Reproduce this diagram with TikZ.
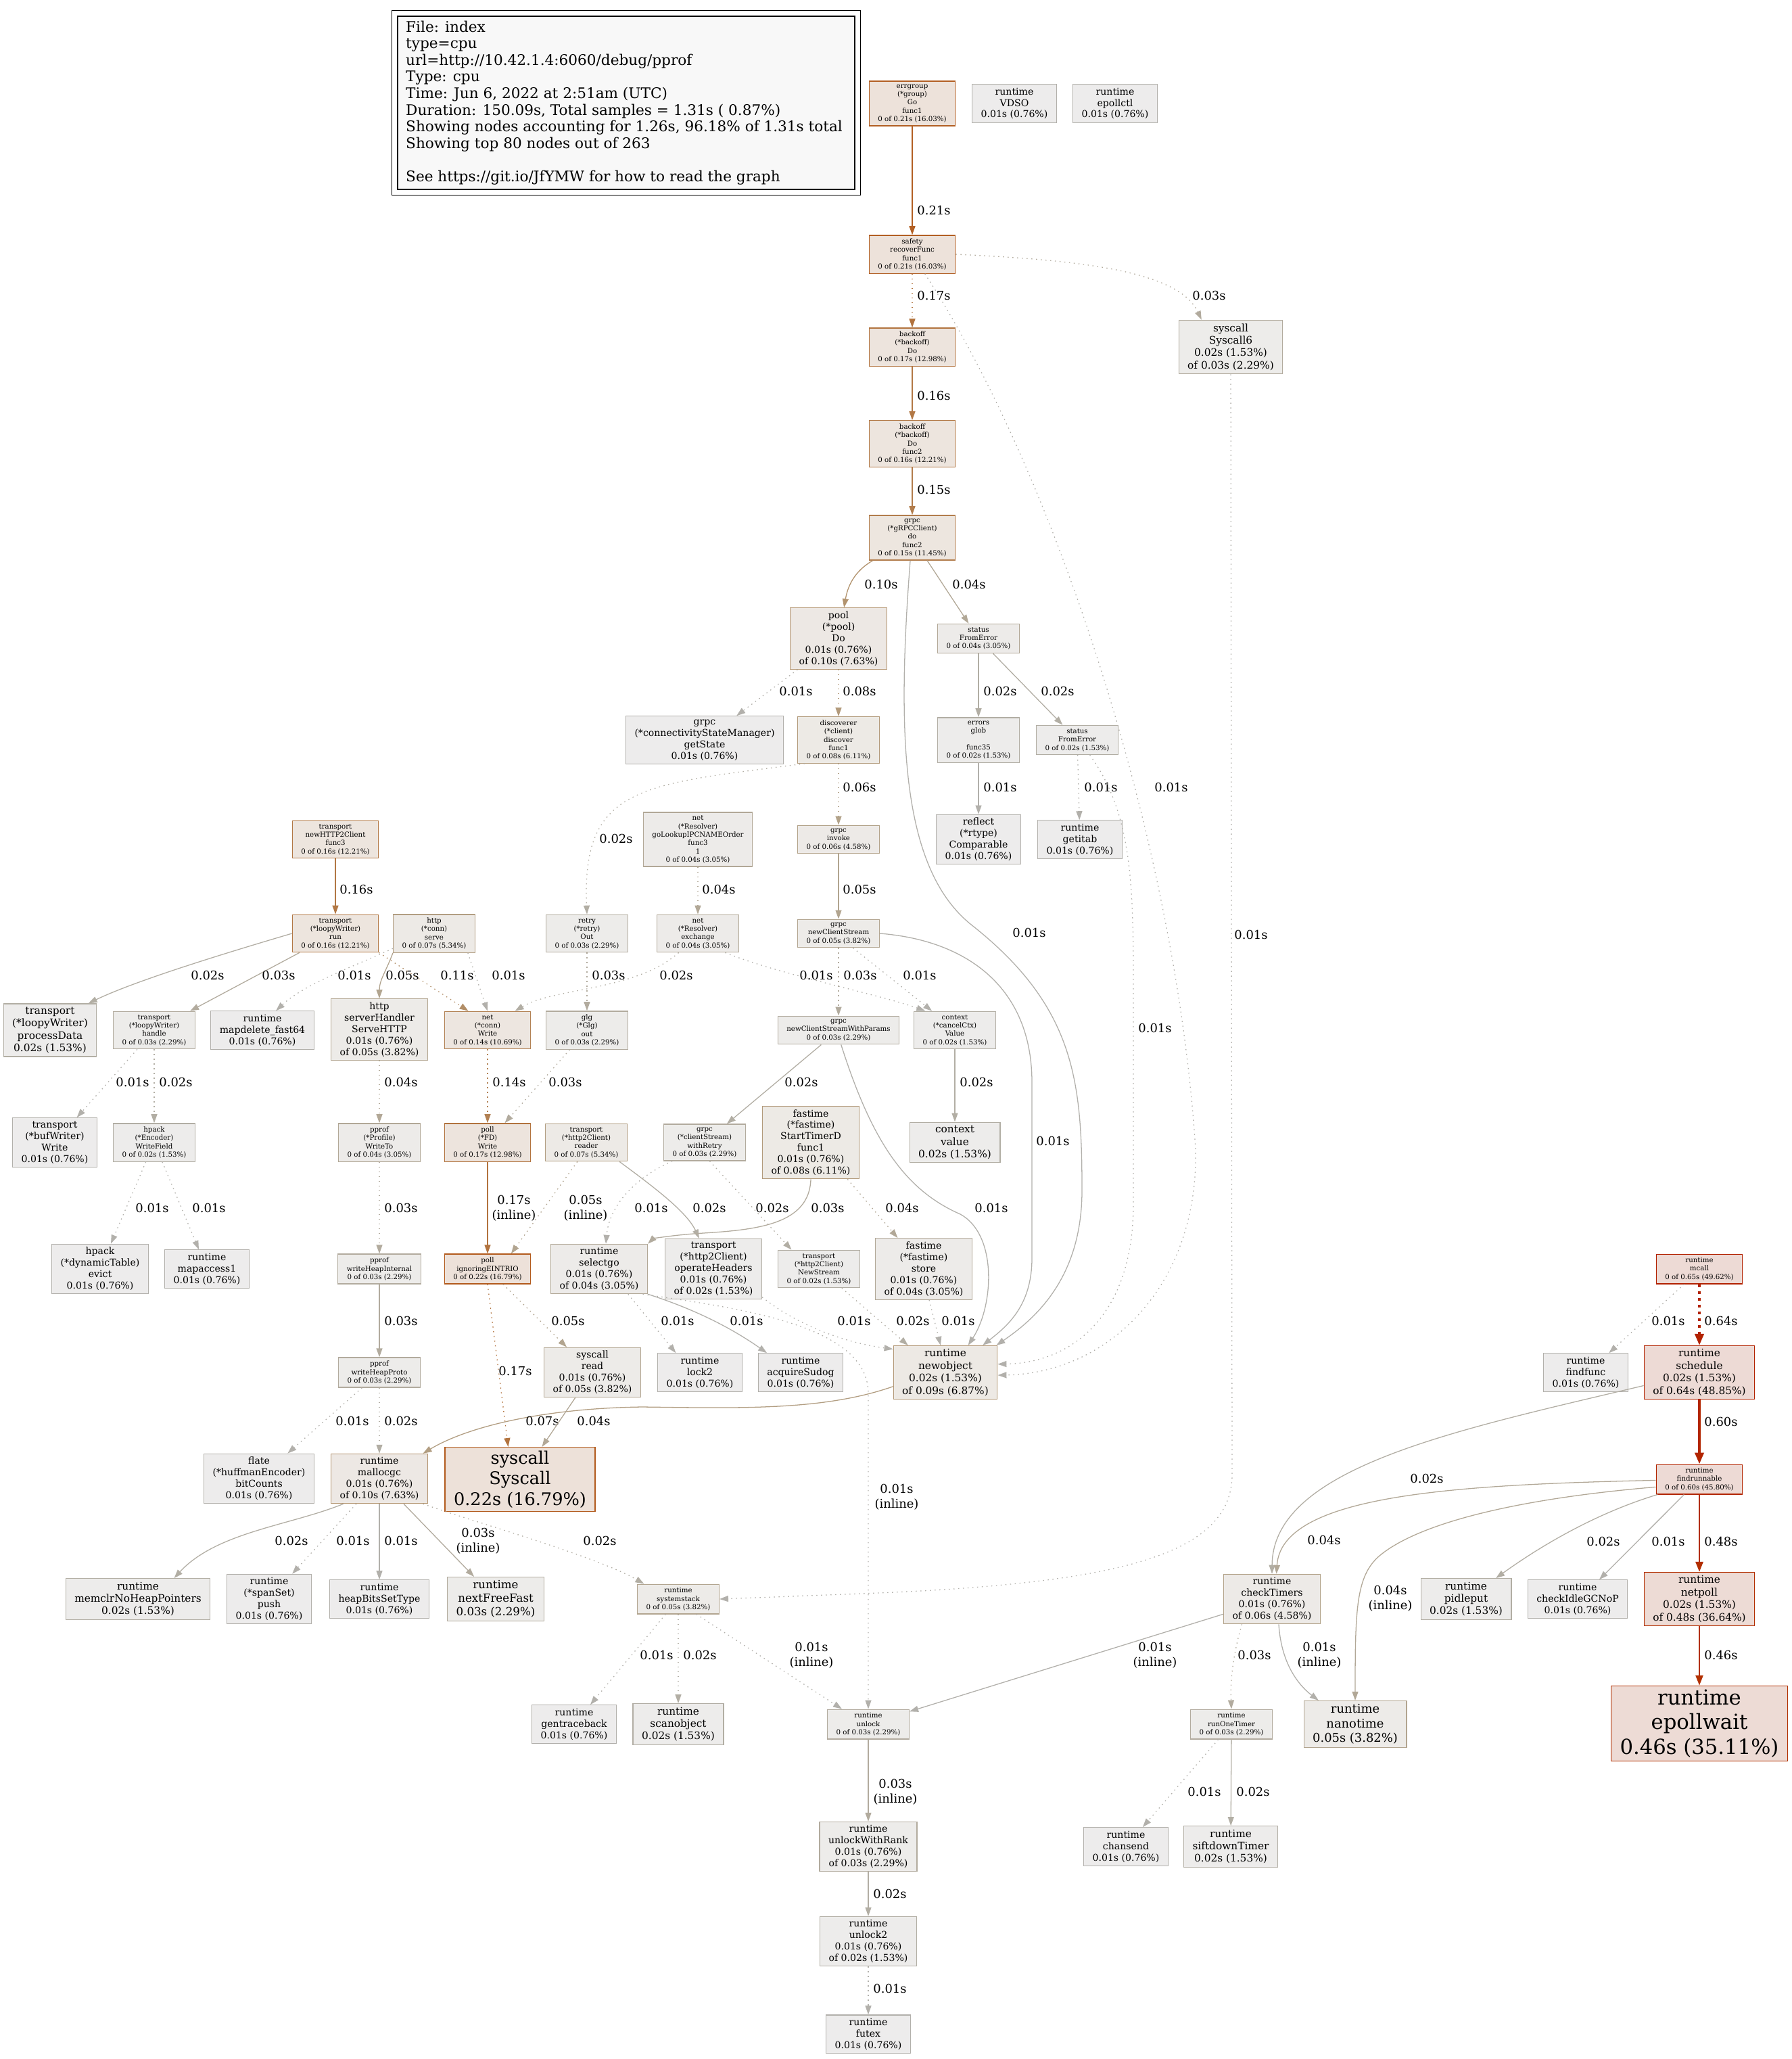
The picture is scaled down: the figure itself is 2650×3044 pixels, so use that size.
\documentclass[tikz,border=0pt]{standalone}
\usepackage{fontspec}
\setmainfont{DejaVu Serif}
\usepackage{tikz}
\usetikzlibrary{arrows.meta,fit}
% node fills (by cumulative time)
\definecolor{ppfill01}{HTML}{EDECEC}
\definecolor{ppfill02}{HTML}{EDECEB}
\definecolor{ppfill03}{HTML}{EDECEA}
\definecolor{ppfill04}{HTML}{EDEBE9}
\definecolor{ppfill05}{HTML}{EDEBE8}
\definecolor{ppfill06}{HTML}{EDEAE7}
\definecolor{ppfill07}{HTML}{EDEAE6}
\definecolor{ppfill08}{HTML}{EDEAE5}
\definecolor{ppfill09}{HTML}{EDE9E4}
\definecolor{ppfill10}{HTML}{EDE8E4}
\definecolor{ppfill14}{HTML}{EDE6E0}
\definecolor{ppfill15}{HTML}{EDE6DF}
\definecolor{ppfill16}{HTML}{EDE5DE}
\definecolor{ppfill17}{HTML}{EDE4DD}
\definecolor{ppfill21}{HTML}{EDE2DA}
\definecolor{ppfill22}{HTML}{EDE1D9}
\definecolor{ppfill46}{HTML}{EDDBD5}
\definecolor{ppfill48}{HTML}{EDDBD5}
\definecolor{ppfill60}{HTML}{EDDAD5}
\definecolor{ppfill64}{HTML}{EDDAD5}
\definecolor{ppfill65}{HTML}{EDDAD5}
% borders and edges
\definecolor{ppline01}{HTML}{B2B0AB}
\definecolor{ppline02}{HTML}{B2AEA4}
\definecolor{ppline03}{HTML}{B2AB9E}
\definecolor{ppline04}{HTML}{B2A897}
\definecolor{ppline05}{HTML}{B2A590}
\definecolor{ppline06}{HTML}{B2A289}
\definecolor{ppline07}{HTML}{B29E82}
\definecolor{ppline08}{HTML}{B29A7B}
\definecolor{ppline09}{HTML}{B29775}
\definecolor{ppline10}{HTML}{B2936E}
\definecolor{ppline11}{HTML}{B28E67}
\definecolor{ppline14}{HTML}{B28153}
\definecolor{ppline15}{HTML}{B27D4C}
\definecolor{ppline16}{HTML}{B27845}
\definecolor{ppline17}{HTML}{B2733E}
\definecolor{ppline21}{HTML}{B25F23}
\definecolor{ppline22}{HTML}{B25A1C}
\definecolor{ppline46}{HTML}{B23000}
\definecolor{ppline48}{HTML}{B22E00}
\definecolor{ppline60}{HTML}{B22500}
\definecolor{ppline64}{HTML}{B22200}
\definecolor{ppline65}{HTML}{B22100}
\definecolor{pplegend}{HTML}{F8F8F8}
\newcommand{\ppsize}[2]{\fontsize{#1pt}{#2pt}\selectfont}

\begin{document}
\begin{tikzpicture}[x=1pt, y=-1pt,
    fnbox/.style={rectangle, draw, align=center, line width=1.28pt, inner xsep=13pt, inner ysep=5pt},
    heat/.style={fill=ppfill#1, draw=ppline#1},
    fs8/.style={font=\ppsize{10.24}{12.3}},
    fs11/.style={font=\ppsize{14.08}{16.9}},
    fs12/.style={font=\ppsize{15.36}{18.4}},
    fs13/.style={font=\ppsize{16.64}{20}},
    fs14/.style={font=\ppsize{17.92}{21.5}},
    fs20/.style={font=\ppsize{25.6}{30.7}},
    fs24/.style={font=\ppsize{30.72}{36.9}},
    lbl/.style={align=center, inner sep=0pt, font=\ppsize{17.92}{21.5}},
    legendbox/.style={draw, line width=1.28pt, fill=pplegend, minimum width=676pt, minimum height=256pt, inner sep=0pt},
    legendtext/.style={align=left, inner sep=0pt, font=\ppsize{21.6}{24.6}},
    call/.style={draw=ppline#1, line width=1.28pt, -{Triangle[length=13pt,width=9pt]}},
    resid/.style={dash pattern=on 1.5pt off 5.5pt},
    wide/.style={line width=2.56pt, -{Triangle[length=15pt,width=11pt]}},
    wider/.style={line width=3.84pt, -{Triangle[length=17pt,width=13pt]}}]
  \path[use as bounding box, fill=white] (0,0) rectangle (2650,3044);

  % Legend
  \node[legendbox] (legend) at (926,152) {};
  \node[legendtext, anchor=west] (legendinfo) at (600,152) {File: index\\type=cpu\\url=http://10.42.1.4:6060/debug/pprof\\Type: cpu\\Time: Jun 6, 2022 at 2:51am (UTC)\\Duration: 150.09s, Total samples = 1.31s ( 0.87\%)\\Showing nodes accounting for 1.26s, 96.18\% of 1.31s total\\Showing top 80 nodes out of 263\\[24.6pt]See https://git.io/JfYMW for how to read the graph};
  \node[draw, line width=1.28pt, fit=(legend), inner sep=8pt] (legendframe) {};

  % Roots
  \node[fnbox, fs8, heat=21] (errgroup) at (1349,153) {errgroup\\(*group)\\Go\\func1\\0 of 0.21s (16.03\%)};
  \node[fnbox, fs11, heat=01] (vdso) at (1500,153) {runtime\\VDSO\\0.01s (0.76\%)};
  \node[fnbox, fs11, heat=01] (epollctl) at (1649,153) {runtime\\epollctl\\0.01s (0.76\%)};

  % Client retry chain
  \node[fnbox, fs8, heat=21] (safety) at (1349,376) {safety\\recoverFunc\\func1\\0 of 0.21s (16.03\%)};
  \node[fnbox, fs8, heat=17] (backoffdo) at (1349,513) {backoff\\(*backoff)\\Do\\0 of 0.17s (12.98\%)};
  \node[fnbox, fs12, heat=03] (syscallsix) at (1820,513) {syscall\\Syscall6\\0.02s (1.53\%)\\of 0.03s (2.29\%)};
  \node[fnbox, fs8, heat=16] (backofffunc) at (1349,656) {backoff\\(*backoff)\\Do\\func2\\0 of 0.16s (12.21\%)};
  \node[fnbox, fs8, heat=15] (grpcdo) at (1349,795) {grpc\\(*gRPCClient)\\do\\func2\\0 of 0.15s (11.45\%)};
  \node[fnbox, fs11, heat=10] (pool) at (1240,944) {pool\\(*pool)\\Do\\0.01s (0.76\%)\\of 0.10s (7.63\%)};
  \node[fnbox, fs8, heat=04] (status) at (1447,944) {status\\FromError\\0 of 0.04s (3.05\%)};
  \node[fnbox, fs11, heat=01] (getstate) at (1042,1094) {grpc\\(*connectivityStateManager)\\getState\\0.01s (0.76\%)};
  \node[fnbox, fs8, heat=08] (discoverer) at (1240,1094) {discoverer\\(*client)\\discover\\func1\\0 of 0.08s (6.11\%)};
  \node[fnbox, fs8, heat=02] (glob) at (1447,1094) {errors\\glob\\[12.3pt]func35\\0 of 0.02s (1.53\%)};
  \node[fnbox, fs8, heat=02] (statustwo) at (1593,1094) {status\\FromError\\0 of 0.02s (1.53\%)};
  \node[fnbox, fs8, heat=16] (http2client) at (496,1241) {transport\\newHTTP2Client\\func3\\0 of 0.16s (12.21\%)};
  \node[fnbox, fs8, heat=04] (golookup) at (1032,1241) {net\\(*Resolver)\\goLookupIPCNAMEOrder\\func3\\1\\0 of 0.04s (3.05\%)};
  \node[fnbox, fs8, heat=06] (invoke) at (1240,1241) {grpc\\invoke\\0 of 0.06s (4.58\%)};
  \node[fnbox, fs11, heat=01] (rtype) at (1447,1241) {reflect\\(*rtype)\\Comparable\\0.01s (0.76\%)};
  \node[fnbox, fs11, heat=01] (getitab) at (1597,1241) {runtime\\getitab\\0.01s (0.76\%)};

  % Writers, readers and streams
  \node[fnbox, fs8, heat=16] (looprun) at (496,1380) {transport\\(*loopyWriter)\\run\\0 of 0.16s (12.21\%)};
  \node[fnbox, fs8, heat=07] (connserve) at (642,1380) {http\\(*conn)\\serve\\0 of 0.07s (5.34\%)};
  \node[fnbox, fs8, heat=03] (retryout) at (868,1380) {retry\\(*retry)\\Out\\0 of 0.03s (2.29\%)};
  \node[fnbox, fs8, heat=04] (exchange) at (1032,1380) {net\\(*Resolver)\\exchange\\0 of 0.04s (3.05\%)};
  \node[fnbox, fs8, heat=05] (clientstream) at (1240,1380) {grpc\\newClientStream\\0 of 0.05s (3.82\%)};
  \node[fnbox, fs12, heat=02] (processdata) at (74,1523) {transport\\(*loopyWriter)\\processData\\0.02s (1.53\%)};
  \node[fnbox, fs8, heat=03] (loophandle) at (228,1523) {transport\\(*loopyWriter)\\handle\\0 of 0.03s (2.29\%)};
  \node[fnbox, fs11, heat=01] (mapdelete) at (388,1523) {runtime\\mapdelete\_fast64\\0.01s (0.76\%)};
  \node[fnbox, fs11, heat=05] (servehttp) at (561,1522) {http\\serverHandler\\ServeHTTP\\0.01s (0.76\%)\\of 0.05s (3.82\%)};
  \node[fnbox, fs8, heat=14] (connwrite) at (721,1523) {net\\(*conn)\\Write\\0 of 0.14s (10.69\%)};
  \node[fnbox, fs8, heat=03] (glgout) at (868,1523) {glg\\(*Glg)\\out\\0 of 0.03s (2.29\%)};
  \node[fnbox, fs8, heat=03] (streamparams) at (1240,1523) {grpc\\newClientStreamWithParams\\0 of 0.03s (2.29\%)};
  \node[fnbox, fs8, heat=02] (cancelctx) at (1412,1523) {context\\(*cancelCtx)\\Value\\0 of 0.02s (1.53\%)};
  \node[fnbox, fs11, heat=01] (bufwrite) at (81,1689) {transport\\(*bufWriter)\\Write\\0.01s (0.76\%)};
  \node[fnbox, fs8, heat=02] (writefield) at (228,1689) {hpack\\(*Encoder)\\WriteField\\0 of 0.02s (1.53\%)};
  \node[fnbox, fs8, heat=04] (writeto) at (561,1689) {pprof\\(*Profile)\\WriteTo\\0 of 0.04s (3.05\%)};
  \node[fnbox, fs8, heat=17] (fdwrite) at (721,1689) {poll\\(*FD)\\Write\\0 of 0.17s (12.98\%)};
  \node[fnbox, fs8, heat=07] (h2reader) at (867,1689) {transport\\(*http2Client)\\reader\\0 of 0.07s (5.34\%)};
  \node[fnbox, fs8, heat=03] (withretry) at (1042,1689) {grpc\\(*clientStream)\\withRetry\\0 of 0.03s (2.29\%)};
  \node[fnbox, fs11, heat=08] (timerd) at (1199,1689) {fastime\\(*fastime)\\StartTimerD\\func1\\0.01s (0.76\%)\\of 0.08s (6.11\%)};
  \node[fnbox, fs12, heat=02] (ctxvalue) at (1412,1689) {context\\value\\0.02s (1.53\%)};

  % Lower call levels
  \node[fnbox, fs11, heat=01] (evict) at (148,1876) {hpack\\(*dynamicTable)\\evict\\0.01s (0.76\%)};
  \node[fnbox, fs11, heat=01] (mapaccess) at (306,1876) {runtime\\mapaccess1\\0.01s (0.76\%)};
  \node[fnbox, fs8, heat=03] (heapinternal) at (561,1876) {pprof\\writeHeapInternal\\0 of 0.03s (2.29\%)};
  \node[fnbox, fs8, heat=22] (eintr) at (721,1876) {poll\\ignoringEINTRIO\\0 of 0.22s (16.79\%)};
  \node[fnbox, fs11, heat=04] (selectgo) at (886,1876) {runtime\\selectgo\\0.01s (0.76\%)\\of 0.04s (3.05\%)};
  \node[fnbox, fs11, heat=02] (opheaders) at (1055,1876) {transport\\(*http2Client)\\operateHeaders\\0.01s (0.76\%)\\of 0.02s (1.53\%)};
  \node[fnbox, fs8, heat=02] (h2newstream) at (1211,1876) {transport\\(*http2Client)\\NewStream\\0 of 0.02s (1.53\%)};
  \node[fnbox, fs11, heat=04] (fstore) at (1366,1876) {fastime\\(*fastime)\\store\\0.01s (0.76\%)\\of 0.04s (3.05\%)};
  \node[fnbox, fs8, heat=65] (mcall) at (2513,1876) {runtime\\mcall\\0 of 0.65s (49.62\%)};
  \node[fnbox, fs8, heat=03] (heapproto) at (561,2029) {pprof\\writeHeapProto\\0 of 0.03s (2.29\%)};
  \node[fnbox, fs11, heat=05] (sysread) at (876,2029) {syscall\\read\\0.01s (0.76\%)\\of 0.05s (3.82\%)};
  \node[fnbox, fs11, heat=01] (locktwo) at (1035,2029) {runtime\\lock2\\0.01s (0.76\%)};
  \node[fnbox, fs11, heat=01] (sudog) at (1184,2029) {runtime\\acquireSudog\\0.01s (0.76\%)};
  \node[fnbox, fs12, heat=09] (newobject) at (1398,2029) {runtime\\newobject\\0.02s (1.53\%)\\of 0.09s (6.87\%)};
  \node[fnbox, fs11, heat=01] (findfunc) at (2345,2029) {runtime\\findfunc\\0.01s (0.76\%)};
  \node[fnbox, fs12, heat=64] (schedule) at (2513,2029) {runtime\\schedule\\0.02s (1.53\%)\\of 0.64s (48.85\%)};
  \node[fnbox, fs11, heat=01] (bitcounts) at (383,2186) {flate\\(*huffmanEncoder)\\bitCounts\\0.01s (0.76\%)};
  \node[fnbox, fs11, heat=10] (mallocgc) at (561,2186) {runtime\\mallocgc\\0.01s (0.76\%)\\of 0.10s (7.63\%)};
  \node[fnbox, fs20, heat=22] (syscall) at (769,2187) {syscall\\Syscall\\0.22s (16.79\%)};
  \node[fnbox, fs8, heat=60] (findrunnable) at (2513,2187) {runtime\\findrunnable\\0 of 0.60s (45.80\%)};

  % Runtime leaves
  \node[fnbox, fs12, heat=02] (memclr) at (204,2364) {runtime\\memclrNoHeapPointers\\0.02s (1.53\%)};
  \node[fnbox, fs11, heat=01] (spanpush) at (398,2364) {runtime\\(*spanSet)\\push\\0.01s (0.76\%)};
  \node[fnbox, fs11, heat=01] (heapbits) at (561,2364) {runtime\\heapBitsSetType\\0.01s (0.76\%)};
  \node[fnbox, fs13, heat=03] (nextfree) at (733,2364) {runtime\\nextFreeFast\\0.03s (2.29\%)};
  \node[fnbox, fs8, heat=05] (systemstack) at (1003,2364) {runtime\\systemstack\\0 of 0.05s (3.82\%)};
  \node[fnbox, fs11, heat=06] (checktimers) at (1881,2364) {runtime\\checkTimers\\0.01s (0.76\%)\\of 0.06s (4.58\%)};
  \node[fnbox, fs12, heat=02] (pidleput) at (2168,2364) {runtime\\pidleput\\0.02s (1.53\%)};
  \node[fnbox, fs11, heat=01] (checkidle) at (2333,2364) {runtime\\checkIdleGCNoP\\0.01s (0.76\%)};
  \node[fnbox, fs12, heat=48] (netpoll) at (2513,2364) {runtime\\netpoll\\0.02s (1.53\%)\\of 0.48s (36.64\%)};
  \node[fnbox, fs11, heat=01] (gentraceback) at (849,2549) {runtime\\gentraceback\\0.01s (0.76\%)};
  \node[fnbox, fs12, heat=02] (scanobject) at (1003,2549) {runtime\\scanobject\\0.02s (1.53\%)};
  \node[fnbox, fs8, heat=03] (unlock) at (1284,2549) {runtime\\unlock\\0 of 0.03s (2.29\%)};
  \node[fnbox, fs8, heat=03] (runonetimer) at (1821,2549) {runtime\\runOneTimer\\0 of 0.03s (2.29\%)};
  \node[fnbox, fs14, heat=05] (nanotime) at (2004,2549) {runtime\\nanotime\\0.05s (3.82\%)};
  \node[fnbox, fs24, heat=46] (epollwait) at (2513,2548) {runtime\\epollwait\\0.46s (35.11\%)};
  \node[fnbox, fs11, heat=03] (unlockrank) at (1284,2730) {runtime\\unlockWithRank\\0.01s (0.76\%)\\of 0.03s (2.29\%)};
  \node[fnbox, fs11, heat=01] (chansend) at (1665,2730) {runtime\\chansend\\0.01s (0.76\%)};
  \node[fnbox, fs12, heat=02] (siftdown) at (1820,2730) {runtime\\siftdownTimer\\0.02s (1.53\%)};
  \node[fnbox, fs11, heat=02] (unlocktwo) at (1284,2870) {runtime\\unlock2\\0.01s (0.76\%)\\of 0.02s (1.53\%)};
  \node[fnbox, fs11, heat=01] (futex) at (1284,3007) {runtime\\futex\\0.01s (0.76\%)};

  % Arrows: top chain
  \draw[call=21] (errgroup) -- (safety) node[lbl] at (1381,311) {0.21s};
  \draw[call=17, resid] (safety) -- (backoffdo) node[lbl] at (1381,437) {0.17s};
  \draw[call=03, resid] (safety.east) .. controls (1620,385) and (1745,405) .. (syscallsix.137) node[lbl] at (1788,437) {0.03s};
  \draw[call=01, resid] (safety) .. controls (1560,700) and (1740,1250) .. (1768,1700) .. controls (1772,1900) and (1640,2030) .. (newobject.-3) node[lbl] at (1732,1164) {0.01s};
  \draw[call=16] (backoffdo) -- (backofffunc) node[lbl] at (1381,585) {0.16s};
  \draw[call=15] (backofffunc) -- (grpcdo) node[lbl] at (1381,724) {0.15s};
  \draw[call=10] (grpcdo) to[out=-150,in=80] (pool) node[lbl] at (1303,864) {0.10s};
  \draw[call=04] (grpcdo) -- (status) node[lbl] at (1433,864) {0.04s};
  \draw[call=01] (grpcdo.-95) .. controls (1325,1100) and (1335,1290) .. (1440,1370) .. controls (1590,1490) and (1600,1600) .. (1600,1760) .. controls (1600,1890) and (1530,1950) .. (newobject.28) node[lbl] at (1522,1379) {0.01s};
  \draw[call=01, resid] (syscallsix) -- (1822,2180) .. controls (1822,2300) and (1650,2340) .. (1300,2355) -- (systemstack.east) node[lbl] at (1850,1382) {0.01s};

  % Arrows: pool, status, discovery
  \draw[call=01, resid] (pool) -- (getstate) node[lbl] at (1177,1022) {0.01s};
  \draw[call=08, resid] (pool) -- (discoverer) node[lbl] at (1271,1022) {0.08s};
  \draw[call=02] (status) -- (glob) node[lbl] at (1479,1022) {0.02s};
  \draw[call=02] (status) -- (statustwo) node[lbl] at (1564,1022) {0.02s};
  \draw[call=06, resid] (discoverer) -- (invoke) node[lbl] at (1271,1164) {0.06s};
  \draw[call=01] (glob) -- (rtype) node[lbl] at (1479,1164) {0.01s};
  \draw[call=01, resid] (statustwo) -- (getitab) node[lbl] at (1628,1164) {0.01s};
  \draw[call=01, resid] (statustwo.-50) .. controls (1672,1200) and (1676,1300) .. (1676,1450) -- (1676,1780) .. controls (1676,1950) and (1580,2015) .. (newobject.9) node[lbl] at (1708,1520) {0.01s};
  \draw[call=02, resid] (discoverer.215) .. controls (950,1160) and (860,1160) .. (retryout.north) node[lbl] at (911,1240) {0.02s};
  \draw[call=16] (http2client) -- (looprun) node[lbl] at (527,1315) {0.16s};
  \draw[call=04, resid] (golookup) -- (exchange) node[lbl] at (1063,1315) {0.04s};
  \draw[call=05] (invoke) -- (clientstream) node[lbl] at (1271,1315) {0.05s};

  % Arrows: writers and streams
  \draw[call=02] (looprun.west) .. controls (330,1410) and (200,1450) .. (processdata.35) node[lbl] at (307,1442) {0.02s};
  \draw[call=03] (looprun) -- (loophandle) node[lbl] at (412,1442) {0.03s};
  \draw[call=01, resid] (connserve.200) .. controls (520,1430) and (450,1455) .. (mapdelete.55) node[lbl] at (524,1442) {0.01s};
  \draw[call=05] (connserve.south west) to[out=-110,in=90] (servehttp.north) node[lbl] at (595,1442) {0.05s};
  \draw[call=11, resid] (looprun.south east) -- (connwrite.135) node[lbl] at (676,1442) {0.11s};
  \draw[call=01, resid] (connserve.-30) -- (connwrite.north) node[lbl] at (752,1442) {0.01s};
  \draw[call=03, resid] (retryout) -- (glgout) node[lbl] at (900,1442) {0.03s};
  \draw[call=02, resid] (exchange.225) .. controls (940,1465) and (820,1460) .. (connwrite.35) node[lbl] at (1000,1442) {0.02s};
  \draw[call=01, resid] (exchange.-35) .. controls (1150,1440) and (1300,1470) .. (cancelctx.147) node[lbl] at (1207,1442) {0.01s};
  \draw[call=03, resid] (clientstream) -- (streamparams) node[lbl] at (1272,1442) {0.03s};
  \draw[call=01, resid] (clientstream.-45) -- (cancelctx.140) node[lbl] at (1360,1442) {0.01s};
  \draw[call=01] (clientstream.east) .. controls (1430,1390) and (1526,1460) .. (1526,1600) -- (1526,1860) .. controls (1526,1930) and (1490,1960) .. (newobject.36) node[lbl] at (1557,1687) {0.01s};
  \draw[call=01, resid] (loophandle) -- (bufwrite) node[lbl] at (196,1600) {0.01s};
  \draw[call=02, resid] (loophandle) -- (writefield) node[lbl] at (260,1600) {0.02s};
  \draw[call=04, resid] (servehttp) -- (writeto) node[lbl] at (593,1600) {0.04s};
  \draw[call=14, resid] (connwrite) -- (fdwrite) node[lbl] at (753,1600) {0.14s};
  \draw[call=03, resid] (glgout) -- (fdwrite) node[lbl] at (836,1600) {0.03s};
  \draw[call=02] (streamparams) -- (withretry) node[lbl] at (1185,1600) {0.02s};
  \draw[call=02] (cancelctx) -- (ctxvalue) node[lbl] at (1444,1600) {0.02s};

  % Arrows: middle levels
  \draw[call=01, resid] (writefield) -- (evict) node[lbl] at (225,1786) {0.01s};
  \draw[call=01, resid] (writefield) -- (mapaccess) node[lbl] at (309,1786) {0.01s};
  \draw[call=03, resid] (writeto) -- (heapinternal) node[lbl] at (593,1786) {0.03s};
  \draw[call=17] (fdwrite) -- (eintr) node[lbl] at (760,1786) {0.17s\\(inline)};
  \draw[call=05, resid] (h2reader.-115) -- (eintr.33) node[lbl] at (866,1786) {0.05s\\(inline)};
  \draw[call=01, resid] (withretry.-150) .. controls (930,1745) and (900,1790) .. (selectgo.75) node[lbl] at (963,1786) {0.01s};
  \draw[call=02] (h2reader.-30) .. controls (960,1750) and (1015,1790) .. (opheaders.115) node[lbl] at (1049,1786) {0.02s};
  \draw[call=02, resid] (withretry.-75) -- (h2newstream.145) node[lbl] at (1142,1786) {0.02s};
  \draw[call=03] (timerd.south) .. controls (1197,1810) and (1120,1818) .. (1040,1823) .. controls (990,1826) and (965,1832) .. (selectgo.north east) node[lbl] at (1224,1786) {0.03s};
  \draw[call=04, resid] (timerd.-45) -- (fstore.130) node[lbl] at (1334,1786) {0.04s};
  \draw[call=01] (streamparams.-80) .. controls (1290,1690) and (1340,1760) .. (1420,1795) .. controls (1475,1825) and (1470,1930) .. (newobject.50) node[lbl] at (1466,1786) {0.01s};
  \draw[call=03] (heapinternal) -- (heapproto) node[lbl] at (593,1953) {0.03s};
  \draw[call=05, resid] (eintr) -- (sysread) node[lbl] at (840,1953) {0.05s};
  \draw[call=01, resid] (selectgo.-41) -- (locktwo.141) node[lbl] at (1002,1953) {0.01s};
  \draw[call=01] (selectgo.south east) .. controls (1010,1930) and (1070,1955) .. (sudog.150) node[lbl] at (1104,1953) {0.01s};
  \draw[call=01, resid] (opheaders.-30) .. controls (1180,1960) and (1250,1985) .. (newobject.156) node[lbl] at (1263,1953) {0.01s};
  \draw[call=02, resid] (h2newstream.-40) -- (newobject.144) node[lbl] at (1350,1953) {0.02s};
  \draw[call=01, resid] (fstore.-80) -- (newobject.100) node[lbl] at (1417,1953) {0.01s};
  \draw[call=17, resid] (eintr.south) -- (syscall.110) node[lbl] at (762,2027) {0.17s};
  \draw[call=01, resid] (selectgo.-30) .. controls (1100,1935) and (1284,1960) .. (1284,2060) -- (unlock.north) node[lbl] at (1326,2213) {0.01s\\(inline)};

  % Arrows: allocation
  \draw[call=01, resid] (heapproto) -- (bitcounts) node[lbl] at (521,2101) {0.01s};
  \draw[call=02, resid] (heapproto) -- (mallocgc) node[lbl] at (593,2101) {0.02s};
  \draw[call=07] (newobject.195) .. controls (1220,2085) and (1100,2082) .. (950,2080) .. controls (800,2082) and (690,2110) .. (mallocgc.30) node[lbl] at (802,2101) {0.07s};
  \draw[call=04] (sysread) -- (syscall) node[lbl] at (878,2101) {0.04s};
  \draw[call=02] (mallocgc.-145) .. controls (430,2255) and (320,2265) .. (memclr.30) node[lbl] at (431,2278) {0.02s};
  \draw[call=01, resid] (mallocgc) -- (spanpush) node[lbl] at (522,2278) {0.01s};
  \draw[call=01] (mallocgc) -- (heapbits) node[lbl] at (593,2278) {0.01s};
  \draw[call=03] (mallocgc) -- (nextfree) node[lbl] at (707,2278) {0.03s\\(inline)};
  \draw[call=02, resid] (mallocgc.-30) .. controls (700,2250) and (880,2300) .. (systemstack.156) node[lbl] at (887,2278) {0.02s};
  \draw[call=01, resid] (systemstack) -- (gentraceback) node[lbl] at (971,2447) {0.01s};
  \draw[call=02, resid] (systemstack) -- (scanobject) node[lbl] at (1035,2447) {0.02s};
  \draw[call=01, resid] (systemstack.-40) -- (unlock.150) node[lbl] at (1200,2447) {0.01s\\(inline)};
  \draw[call=03] (unlock) -- (unlockrank) node[lbl] at (1324,2649) {0.03s\\(inline)};
  \draw[call=02] (unlockrank) -- (unlocktwo) node[lbl] at (1316,2800) {0.02s};
  \draw[call=01, resid] (unlocktwo) -- (futex) node[lbl] at (1316,2940) {0.01s};

  % Arrows: scheduler
  \draw[call=01, resid] (mcall.-135) -- (findfunc.40) node[lbl] at (2467,1953) {0.01s};
  \draw[call=64, wider, dash pattern=on 4pt off 6pt] (mcall) -- (schedule) node[lbl] at (2545,1953) {0.64s};
  \draw[call=60, wider] (schedule) -- (findrunnable) node[lbl] at (2545,2102) {0.60s};
  \draw[call=02] (schedule) .. controls (2150,2115) and (1882,2170) .. (checktimers.90) node[lbl] at (2110,2186) {0.02s};
  \draw[call=04] (findrunnable) .. controls (2150,2195) and (1895,2210) .. (checktimers.80) node[lbl] at (1958,2277) {0.04s};
  \draw[call=04] (findrunnable.-170) .. controls (2250,2215) and (2100,2250) .. (2040,2300) .. controls (2005,2330) and (2004,2380) .. (nanotime.north) node[lbl] at (2056,2363) {0.04s\\(inline)};
  \draw[call=02] (findrunnable.-160) .. controls (2350,2240) and (2265,2295) .. (pidleput.35) node[lbl] at (2371,2279) {0.02s};
  \draw[call=01] (findrunnable.-135) -- (checkidle.42) node[lbl] at (2467,2279) {0.01s};
  \draw[call=48, wide] (findrunnable) -- (netpoll) node[lbl] at (2545,2279) {0.48s};
  \draw[call=46, wide] (netpoll) -- (epollwait) node[lbl] at (2545,2447) {0.46s};
  \draw[call=01] (checktimers) -- (unlock) node[lbl] at (1708,2447) {0.01s\\(inline)};
  \draw[call=03, resid] (checktimers.-140) .. controls (1825,2440) and (1819,2480) .. (runonetimer.north) node[lbl] at (1855,2447) {0.03s};
  \draw[call=01] (checktimers.-75) .. controls (1895,2465) and (1925,2495) .. (nanotime.147) node[lbl] at (1951,2447) {0.01s\\(inline)};
  \draw[call=01, resid] (runonetimer) -- (chansend) node[lbl] at (1781,2649) {0.01s};
  \draw[call=02] (runonetimer) -- (siftdown) node[lbl] at (1853,2649) {0.02s};
\end{tikzpicture}
\end{document}
